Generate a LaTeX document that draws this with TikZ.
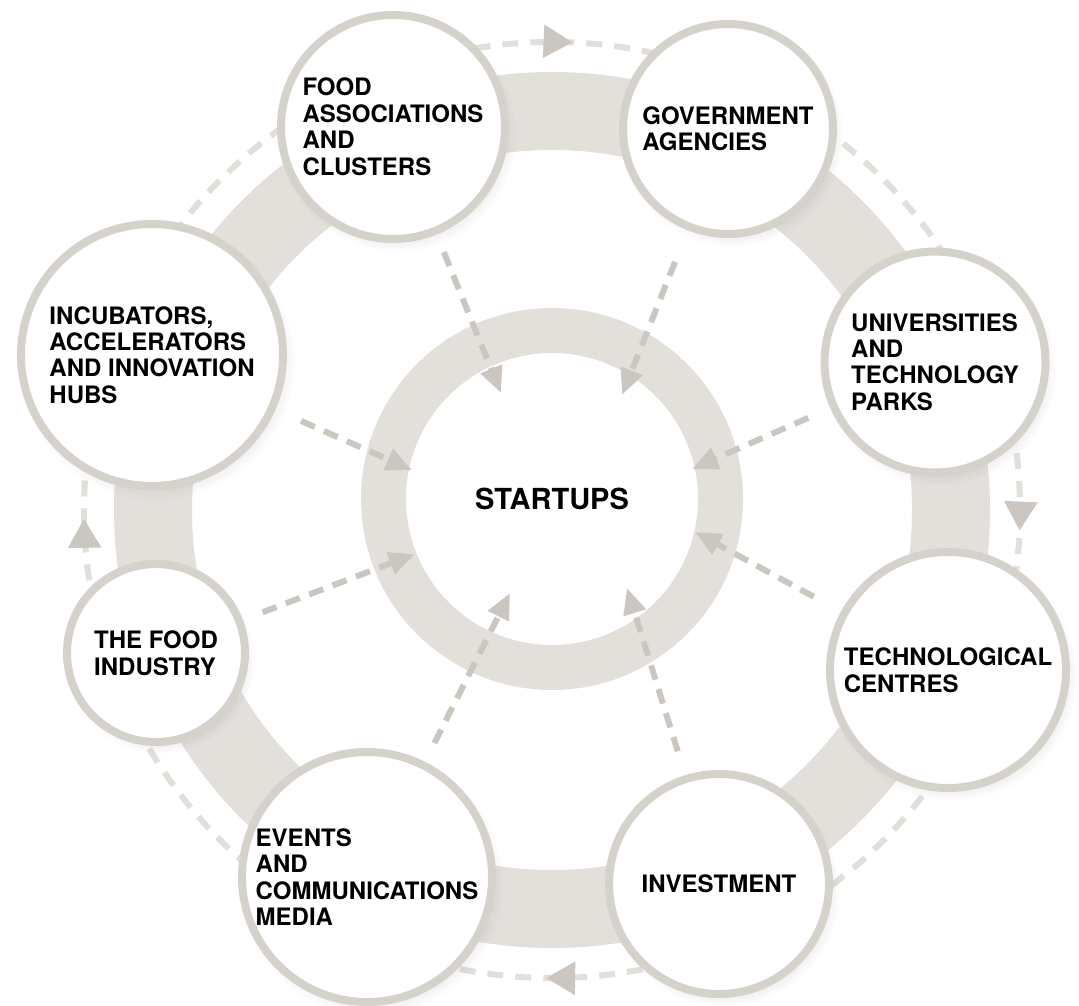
\documentclass[tikz,border=0pt]{standalone}
\usepackage{fontspec}
\setmainfont{TeX Gyre Heros}
\usetikzlibrary{arrows.meta,shadows,decorations.markings}

\definecolor{bandgray}{HTML}{E3E0DC}
\definecolor{rimgray}{HTML}{D5D2CC}
\definecolor{arrowgray}{HTML}{CBC6C0}
\definecolor{dashgray}{HTML}{E2DFDA}

\tikzset{
  actor/.style={circle, draw=rimgray, line width=4pt, fill=white, inner sep=-8pt,
    align=left, font=\fontsize{12}{13.25}\selectfont\bfseries,
    circular drop shadow={opacity=0.18, shadow scale=1.06, shadow xshift=2pt, shadow yshift=-3pt}},
  feed/.style={draw=arrowgray, line width=3pt, dash pattern=on 7.5pt off 5pt,
    -{Triangle[length=13pt,width=11pt]}},
  loophead/.style={arrowgray},
}

\begin{document}
\begin{tikzpicture}[x=0.5pt, y=-0.5pt]
\useasboundingbox (0,0) rectangle (1079,1005);

% wide ring behind the actors
\draw[bandgray, line width=39pt] (552,510) circle[radius=199.5pt];

% dashed loop, clockwise
\draw[dashgray, line width=3pt, dash pattern=on 8pt off 6pt,
  postaction={decorate}, decoration={markings,
    mark=at position 0.007 with {\arrow[loophead]{Triangle[length=14.5pt,width=16pt]}},
    mark=at position 0.252 with {\arrow[loophead]{Triangle[length=14.5pt,width=16pt]}},
    mark=at position 0.497 with {\arrow[loophead]{Triangle[length=14.5pt,width=16pt]}},
    mark=at position 0.757 with {\arrow[loophead]{Triangle[length=14.5pt,width=16pt]}}}]
  (552,510) ++(0:234pt) arc[start angle=0, end angle=-360, radius=234pt];

\node[circle, draw=bandgray, line width=22.5pt, minimum size=168.5pt,
  font=\fontsize{14.5}{16}\selectfont\bfseries] (startups) at (552,499) {STARTUPS};

\node[actor, minimum size=112pt] (foodassoc) at (393,127) {FOOD\\ASSOCIATIONS\\AND\\CLUSTERS};
\node[actor, minimum size=105pt] (gov) at (728,129) {GOVERNMENT\\AGENCIES};
\node[actor, minimum size=110.5pt] (univ) at (935,362) {UNIVERSITIES\\AND\\TECHNOLOGY\\PARKS};
\node[actor, minimum size=118pt] (tech) at (948,670) {TECHNOLOGICAL\\CENTRES};
\node[actor, minimum size=110pt] (invest) at (719,884) {INVESTMENT};
\node[actor, minimum size=125pt] (events) at (367,877) {EVENTS\\AND\\COMMUNICATIONS\\MEDIA};
\node[actor, minimum size=89pt] (foodind) at (156,653) {THE FOOD\\INDUSTRY};
\node[actor, minimum size=131pt] (incub) at (152,355) {INCUBATORS,\\ACCELERATORS\\AND INNOVATION\\HUBS};

% arrow ends on the startups ring
\coordinate (tipa) at (501,393);
\coordinate (tipb) at (622,395);
\coordinate (tipc) at (692,469);
\coordinate (tipd) at (695,532);
\coordinate (tipe) at (627,588);
\coordinate (tipf) at (510,593);
\coordinate (tipg) at (415,554);
\coordinate (tiph) at (412,470);

\draw[feed, shorten <=9.5pt] (foodassoc) -- (tipa);
\draw[feed, shorten <=17pt] (gov) -- (tipb);
\draw[feed, shorten <=12pt] (univ) -- (tipc);
\draw[feed, shorten <=15.5pt] (tech) -- (tipd);
\draw[feed, shorten <=12.5pt] (invest) -- (tipe);
\draw[feed, shorten <=10.5pt] (events) -- (tipf);
\draw[feed, shorten <=10.5pt] (foodind) -- (tipg);
\draw[feed, shorten <=14pt] (incub) -- (tiph);
\end{tikzpicture}
\end{document}
